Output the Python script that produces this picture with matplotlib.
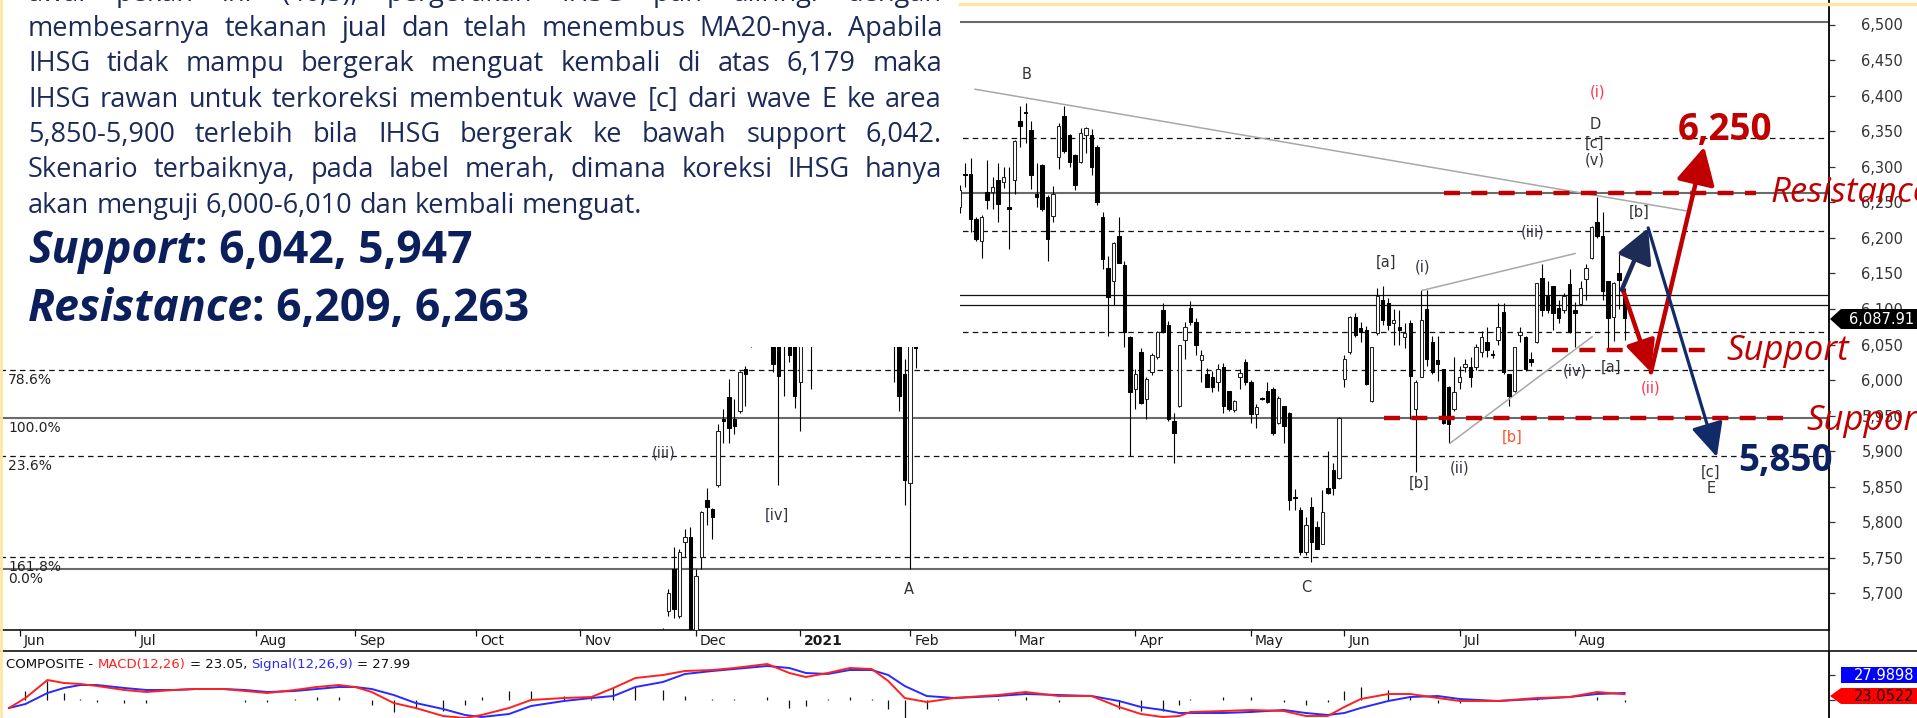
import numpy as np
import matplotlib
matplotlib.use("Agg")
import matplotlib.pyplot as plt
from matplotlib.patches import Rectangle, Polygon
from matplotlib.lines import Line2D
from matplotlib.ticker import FixedLocator, FuncFormatter

plt.rcParams['font.family'] = ['DejaVu Sans']
plt.rcParams['lines.scale_dashes'] = False

# ---------------- data ----------------
first_candle = 117   # trading-day index (0 = first day of Jun 2020)
opens = [5648,5675,5734,5668,5772,5779,5630,5752,5832,5819,5852,5946,5976,5946,5956,6015,6060,6118,6113,6104,
         6165,6080,6050,6080,6060,5997,6104,6137,6065,6153,6257,6382,6395,6435,6429,6373,6389,6429,6413,6414,
         6307,6257,6140,6109,6009,5856,6060,6107,6152,6151,6208,6201,6228,6223,6243,6290,6290,6226,6195,6264,
         6265,6282,6278,6244,6281,6365,6376,6352,6262,6302,6257,6231,6314,6372,6344,6317,6307,6344,6345,6328,
         6230,6158,6139,6203,6162,6061,5987,6039,5973,6011,6033,6099,6078,5942,5963,6056,6101,6082,6028,6009,
         6004,5998,6018,5984,5958,6004,6025,5998,5953,5975,5984,5987,5940,5963,5954,5836,5817,5758,5822,5793,
         5770,5849,5873,5862,6001,6039,6089,6073,6071,5970,6066,6112,6108,6080,6075,6060,6081,5959,6005,6100,
         6053,6028,6015,5990,5959,5998,6018,6018,6019,6040,6053,6037,6057,6096,6008,5984,6064,6061,6030,6054,
         6144,6118,6132,6102,6099,6135,6098,6107,6142,6172,6222,6202,6139,6089,6151,6117]
highs = [5652,5706,5766,5762,5791,5794,5735,5816,5849,5820,5938,5959,6001,5973,6013,6020,6080,6150,6140,6195,
         6170,6090,6110,6100,6070,6112,6150,6150,6160,6262,6400,6420,6460,6504,6450,6400,6440,6450,6440,6420,
         6330,6270,6160,6120,6030,6090,6110,6160,6170,6215,6230,6240,6250,6260,6275,6305,6312,6229,6232,6310,
         6285,6305,6299,6299,6338,6385,6390,6365,6305,6304,6260,6273,6361,6385,6346,6318,6355,6356,6353,6330,
         6236,6174,6194,6229,6167,6062,6015,6045,6004,6038,6069,6109,6083,5954,6050,6082,6111,6087,6043,6017,
         6013,6022,6024,5985,5972,6016,6029,6000,5966,5976,5997,5990,5978,5963,5955,5847,5822,5807,5835,5802,
         5845,5901,5884,5948,6035,6090,6095,6082,6076,6047,6130,6132,6115,6100,6098,6080,6085,6000,6127,6127,
         6062,6062,6016,5992,6033,6020,6029,6032,6051,6069,6074,6043,6109,6109,6009,6047,6075,6062,6040,6137,
         6163,6139,6133,6112,6123,6156,6110,6140,6163,6217,6258,6236,6140,6138,6177,6130]
lows = [5610,5668,5666,5666,5752,5600,5620,5735,5796,5776,5850,5912,5911,5924,5954,5964,6046,6070,6075,6100,
        6011,5852,5977,6026,5961,5928,6080,5987,6060,6150,6250,6330,6380,6400,6350,6300,6370,6390,6380,6290,
        6240,6120,5998,5956,5824,5735,6017,6090,6120,6140,6180,6190,6200,6210,6235,6272,6208,6196,6172,6241,
        6241,6222,6270,6184,6261,6328,6334,6269,6244,6238,6167,6223,6297,6320,6299,6267,6305,6320,6289,6246,
        6156,6062,6105,6164,6047,5893,5959,5966,5945,6007,6030,6066,5943,5884,5962,6029,6078,6036,5998,5990,
        5983,5984,5954,5956,5955,5988,5993,5940,5933,5972,5968,5923,5938,5912,5818,5818,5754,5754,5744,5762,
        5769,5840,5838,5861,5991,6037,6061,6053,5993,5969,6064,6078,6070,6050,6050,6045,5945,5871,6004,6020,
        6008,5999,5938,5912,5956,5988,6011,5990,6014,6032,6032,6031,6050,6008,5963,5983,6053,6013,6020,6052,
        6090,6095,6071,6080,6095,6066,6047,6105,6113,6170,6200,6113,6045,6055,6100,6057]
closes = [5630,5700,5678,5759,5780,5612,5724,5814,5821,5808,5929,5943,5932,5935,6011,6008,6050,6113,6104,6165,
          6022,6006,6093,6036,5977,6104,6137,6065,6153,6257,6382,6395,6435,6429,6373,6389,6429,6413,6414,6307,
          6257,6140,6109,5977,5860,6077,6045,6152,6151,6208,6201,6228,6223,6243,6268,6288,6226,6198,6230,6253,
          6272,6248,6286,6240,6336,6357,6375,6289,6257,6240,6198,6262,6357,6322,6307,6274,6347,6354,6299,6250,
          6170,6117,6193,6165,6068,5983,6009,5968,6001,6035,6068,6068,5945,5926,6049,6075,6082,6050,6036,5991,
          5991,6016,5963,5960,5971,6010,5998,5952,5962,5973,5969,5926,5975,5935,5832,5834,5758,5796,5772,5762,
          5815,5841,5848,5947,6030,6089,6064,6068,5994,6046,6118,6085,6078,6084,6070,6066,6006,5997,6085,6029,
          6011,6022,5940,5938,5983,6005,6022,6004,6046,6060,6043,6035,6075,6012,5977,6046,6068,6015,6025,6136,
          6099,6099,6095,6088,6118,6068,6095,6130,6157,6215,6202,6125,6088,6137,6141,6087.91]

month_labels = ["Jun", "Jul", "Aug", "Sep", "Oct", "Nov", "Dec", "2021",
                "Feb", "Mar", "Apr", "May", "Jun", "Jul", "Aug"]
month_start = [0, 21, 43, 61, 83, 102, 123, 142, 162, 181, 203, 224, 241, 262, 283]
price_ticks = list(range(5700, 6501, 50))

gray_levels = [6504, 6263, 5947, 5734]
thin_levels = [6119, 6105]
dotted_levels = [6340, 6209, 6067, 6014, 5893, 5752]
fib_labels = [("78.6%", 6014), ("100.0%", 5947), ("23.6%", 5893), ("161.8%", 5752), ("0.0%", 5734)]

support_levels = [6042, 5947]
resistance_levels = [6209, 6263]

macd_idx = [-2, 1, 5, 8, 11, 14, 19, 23, 28, 32, 37, 41, 45, 50, 54, 58, 61, 64, 68, 72,
            77, 81, 84, 89, 93, 99, 104, 108, 112, 117, 121, 126, 130, 136, 140, 143, 147, 151, 155, 158,
            161, 165, 170, 178, 183, 189, 195, 200, 204, 208, 211, 213, 219, 224, 230, 234, 238, 241, 244, 249,
            253, 258, 262, 269, 276, 282, 287, 292]
macd_vals = [-32, 8, 80, 68, 64, 56, 40, 32, 40, 44, 44, 36, 28, 40, 52, 60, 52, 32, -12, -32,
             -64, -72, -60, -32, 0, 8, 12, 48, 88, 100, 116, 120, 128, 144, 108, 92, 108, 128, 124, 76,
             8, -8, 8, 20, 32, 16, 16, -28, -56, -68, -64, -48, -44, -40, -44, -64, -64, -28, 4, 24,
             24, 8, -4, -4, 8, 12, 32, 23.05]
signal_vals = [-32, -16, 28, 48, 60, 60, 48, 40, 40, 44, 44, 40, 32, 36, 44, 52, 52, 44, 20, -12,
               -36, -60, -68, -56, -24, -4, 8, 16, 52, 72, 104, 116, 124, 136, 128, 108, 104, 120, 120, 100,
               56, 16, 8, 16, 24, 20, 16, -4, -28, -40, -52, -52, -52, -48, -40, -52, -60, -52, -32, -4,
               12, 16, 4, -4, 4, 12, 24, 27.99]
macd_tag = "23.0522"
signal_tag = "27.9898"

# wave labels: (text, trading-day index, price, colour)
wave_labels = [
    ("B", 183.1, 6430, "#333333"), ("(iii)", 117.2, 5897, "#333344"), ("[iv]", 137.8, 5810, "#333344"),
    ("A", 161.8, 5705, "#333333"), ("C", 234.0, 5708, "#333333"), ("[b]", 254.6, 5855, "#333333"),
    ("(ii)", 261.9, 5876, "#333344"), ("[b]", 271.5, 5920, "#ff5030"), ("(iv)", 283.0, 6013, "#333344"),
    ("[a]", 289.5, 6018, "#333333"), ("(ii)", 296.8, 5989, "#ff3050"), ("[c]", 307.7, 5871, "#333333"),
    ("E", 307.7, 5848, "#333333"), ("(i)", 287.0, 6405, "#ff3050"), ("D", 286.6, 6360, "#333333"),
    ("[c]", 286.6, 6333, "#333333"), ("(v)", 286.6, 6309, "#333344"), ("[b]", 294.6, 6236, "#333333"),
    ("(iii)", 275.2, 6208, "#333344"), ("[a]", 248.6, 6166, "#333333"), ("(i)", 255.3, 6159, "#333344"),
]
trendlines = [((173.8, 6409), (303.2, 6238)), ((260.2, 5911), (286.1, 6061)), ((255.1, 6126), (283.0, 6178))]

red_path_idx = [291.7, 296.8, 306.5]
red_path_price = [6127, 6011, 6328]
blue_path_idx = [291.5, 296.3, 308.8]
blue_path_price = [6127, 6214, 5892]

body_lines = [
    "awal pekan ini (46,3), pergerakan IHSG pun diiringi dengan",
    "membesarnya tekanan jual dan telah menembus MA20-nya. Apabila",
    "IHSG tidak mampu bergerak menguat kembali di atas 6,179 maka",
    "IHSG rawan untuk terkoreksi membentuk wave [c] dari wave E ke area",
    "5,850-5,900 terlebih bila IHSG bergerak ke bawah support 6,042.",
    "Skenario terbaiknya, pada label merah, dimana koreksi IHSG hanya",
    "akan menguji 6,000-6,010 dan kembali menguat.",
]

# ---------------- layout ----------------
W, H = 1917, 718
fig = plt.figure(figsize=(W / 100, H / 100), dpi=100)
fig.patch.set_facecolor("white")

PX_PER_DAY = 5.495
X0_PX = 20.0
P_REF_PX = 24.5       # pixel row of 6,500
PTS_PER_PX = 1.406
AXIS_X = 1829
PRICE_BOTTOM = 629.6
MACD_TOP = 650.5


def px_to_idx(x):
    return (x - X0_PX) / PX_PER_DAY


def py_to_price(y):
    return 6500 - (y - P_REF_PX) * PTS_PER_PX


def fx(x):
    return x / W


def fy(y):
    return 1 - y / H


ax = fig.add_axes([0, fy(PRICE_BOTTOM), fx(AXIS_X), PRICE_BOTTOM / H])
ax.set_xlim(px_to_idx(0), px_to_idx(AXIS_X))
ax.set_ylim(py_to_price(PRICE_BOTTOM), py_to_price(0))
ax.set_facecolor("white")

axm = fig.add_axes([0, 0, fx(AXIS_X), (H - MACD_TOP) / H])
axm.set_xlim(px_to_idx(0), px_to_idx(AXIS_X))
axm.set_ylim((700 - 718) * 4, (700 - MACD_TOP) * 4)

# horizontal reference lines
for lv in gray_levels:
    ax.axhline(lv, color="#6a6a6a", lw=1.5, zorder=1)
for lv in thin_levels:
    ax.axhline(lv, color="#111111", lw=0.9, zorder=1)
for lv in dotted_levels:
    ax.axhline(lv, color="#111111", lw=0.9, ls=(0, (4.0, 3.0)), zorder=1)
for txt, lv in fib_labels:
    ax.annotate(txt, xy=(0, lv), xycoords=("axes fraction", "data"), xytext=(8, -3),
                textcoords="offset pixels", ha="left", va="top", fontsize=10, color="#222222",
                annotation_clip=False)

# candles
idx = np.arange(first_candle, first_candle + len(opens))
o = np.array(opens, float)
h = np.array(highs, float)
l = np.array(lows, float)
c = np.array(closes, float)
up = c >= o
ax.vlines(idx, l, h, color="black", lw=0.8, zorder=2)
bb = np.minimum(o, c)
bh = np.maximum(np.abs(c - o), 1.5)
ax.bar(idx[up], bh[up], bottom=bb[up], width=0.62, facecolor="white", edgecolor="#222222",
       linewidth=0.75, zorder=3)
ax.bar(idx[~up], bh[~up], bottom=bb[~up], width=0.62, facecolor="black", edgecolor="black",
       linewidth=0.75, zorder=3)

# trendlines
for (x0, y0), (x1, y1) in trendlines:
    ax.plot([x0, x1], [y0, y1], color="#a8a8a8", lw=1.1, zorder=2)

# red support / resistance dashes
red = "#c00000"
red_spans = {6263: (259.1, 316.0), 6042: (278.8, 307.2), 5947: (248.2, 322.7)}
for lv in [resistance_levels[1]] + support_levels:
    a0, a1 = red_spans[lv]
    ax.hlines(lv, a0, a1, color=red, lw=3.2, linestyles=[(0, (11.5, 8.2))], zorder=4)

# wave labels
for txt, xi, pr, col in wave_labels:
    ax.text(xi, pr, txt, ha="center", va="center", fontsize=10.5, color=col, zorder=5)

# scenario arrows
def arrow(axh, p0, p1, col, lw, ms, hw=0.45):
    axh.annotate("", xy=p1, xytext=p0,
                 arrowprops=dict(arrowstyle=f"-|>,head_length=0.95,head_width={hw}", color=col, lw=lw,
                                 shrinkA=0, shrinkB=0, mutation_scale=ms), zorder=6)

navy = "#12296a"
arrow(ax, (red_path_idx[0], red_path_price[0]), (red_path_idx[1], red_path_price[1]), red, 3.2, 20)
arrow(ax, (red_path_idx[1], red_path_price[1]), (red_path_idx[2], red_path_price[2]), red, 3.2, 24, 0.5)
arrow(ax, (blue_path_idx[0], blue_path_price[0]), (blue_path_idx[1], blue_path_price[1]), "#1c2c55", 3.2, 22, 0.5)
arrow(ax, (blue_path_idx[1], blue_path_price[1]), (blue_path_idx[2], blue_path_price[2]), navy, 2.3, 22)

# axes styling (price)
for s in ["top", "left"]:
    ax.spines[s].set_visible(False)
ax.spines["bottom"].set_color("#111111")
ax.spines["bottom"].set_linewidth(1.2)
ax.spines["right"].set_color("#111111")
ax.spines["right"].set_linewidth(1.2)
ax.yaxis.tick_right()
ax.yaxis.set_major_locator(FixedLocator(price_ticks))
ax.yaxis.set_major_formatter(FuncFormatter(lambda v, p: f"{int(v):,}"))
ax.tick_params(axis="y", direction="out", length=4.3, width=0.9, color="#333333",
               pad=19, labelsize=10.5, labelcolor="#333333")
ax.xaxis.set_major_locator(FixedLocator(month_start))
ax.tick_params(axis="x", direction="out", length=4.3, width=0.9, color="#111111", labelbottom=False)
for lab, m in zip(month_labels, month_start):
    ax.annotate(lab, xy=(m, 0), xycoords=("data", "axes fraction"), xytext=(4, -4),
                textcoords="offset pixels", ha="left", va="top", fontsize=10, color="#1a1a1a",
                fontweight="bold" if lab == "2021" else "normal", annotation_clip=False)

# MACD panel
mi = np.array(macd_idx, float)
mv = np.array(macd_vals, float)
sv = np.array(signal_vals, float)
axm.vlines(mi, 0, (mv - sv) * 1.5, color="#111111", lw=0.9, zorder=2)
axm.plot(mi, sv, color="#2a2aff", lw=1.4, zorder=3)
axm.plot(mi, mv, color="#ff2020", lw=1.4, zorder=4)
for s in ["top", "left", "bottom"]:
    axm.spines[s].set_visible(False)
axm.spines["right"].set_color("#111111")
axm.spines["right"].set_linewidth(1.2)
axm.yaxis.tick_right()
axm.set_yticks([0, 100])
axm.set_yticklabels([])
axm.set_xticks([])
axm.tick_params(axis="y", direction="out", length=4.3, width=0.9, color="#333333")

# figure-level frame lines
fig.add_artist(Line2D([fx(AXIS_X)] * 2, [0, 1], transform=fig.transFigure, color="#111111", lw=1.2, zorder=3))
fig.add_artist(Line2D([0, 1], [fy(MACD_TOP)] * 2, transform=fig.transFigure, color="#111111", lw=1.2, zorder=3))

# text box (opaque)
fig.add_artist(Rectangle((0, fy(347)), fx(960), 347 / H, transform=fig.transFigure,
                         facecolor="white", edgecolor="none", zorder=5))
fig.add_artist(Line2D([fx(1), fx(1)], [0, 1], transform=fig.transFigure, color="#ffe7a3", lw=2.0, zorder=9))
fig.add_artist(Line2D([fx(960), 1], [fy(3.5)] * 2, transform=fig.transFigure, color="#ffe7a3", lw=2.5, zorder=9))

renderer = fig.canvas.get_renderer()


def measure(s, **kw):
    a = fig.text(0, 0, "x" + s + "x", **kw)
    b = fig.text(0, 0, "xx", **kw)
    w = a.get_window_extent(renderer).width - b.get_window_extent(renderer).width
    a.remove()
    b.remove()
    return w


def line_text(line, y, x0, x1, justify, **kw):
    words = line.split(" ")
    widths = [measure(w, **kw) for w in words]
    if justify and len(words) > 1:
        gap = (x1 - x0 - sum(widths)) / (len(words) - 1)
    else:
        gap = measure(" ", **kw)
    x = x0
    for w, wd in zip(words, widths):
        fig.text(fx(x), fy(y), w, ha="left", va="baseline", zorder=7, **kw)
        x += wd + gap


def seg_text(parts, x, y, zorder=7):
    for s, kw in parts:
        sp = measure(" ", **kw)
        lead = len(s) - len(s.lstrip(" "))
        trail = len(s) - len(s.rstrip(" "))
        core = s.strip(" ")
        x += lead * sp
        fig.text(fx(x), fy(y), core, ha="left", va="baseline", zorder=zorder, **kw)
        x += measure(core, **kw) + trail * sp


body_kw = dict(fontfamily="Open Sans", fontsize=19.5, color="#1c2a5a")
base_y = 0.8
for i, line in enumerate(body_lines):
    line_text(line, base_y + i * 35.3, 28, 942, i < len(body_lines) - 1, **body_kw)

big = dict(fontfamily="Open Sans", fontsize=32, fontweight="bold", color="#0b1f5c")
seg_text([("Support", dict(big, fontstyle="italic")),
          (": " + ", ".join(f"{v:,}" for v in support_levels), big)], 28, 263)
seg_text([("Resistance", dict(big, fontstyle="italic")),
          (": " + ", ".join(f"{v:,}" for v in resistance_levels), big)], 28, 321)

# red / navy callouts
fig.text(fx(1725), fy(140), "6,250", ha="center", va="baseline", fontfamily="Open Sans",
         fontsize=26.5, fontweight="bold", color=red, zorder=8)
fig.text(fx(1785), fy(471), "5,850", ha="center", va="baseline", fontfamily="Open Sans",
         fontsize=26.5, fontweight="bold", color="#0b2162", zorder=8)
it = dict(fontfamily="Open Sans", fontsize=25, fontstyle="italic", color=red, zorder=8)
fig.text(fx(1771), fy(202), "Resistance", ha="left", va="baseline", **it)
fig.text(fx(1726), fy(360), "Support", ha="left", va="baseline", **it)
fig.text(fx(1806), fy(430), "Support", ha="left", va="baseline", **it)

# last price / MACD value tags
def tag(y0, y1, col, txt, tcol, pointer):
    pts = [(1917, y0), (1917, y1), (1841, y1), (1841, y0)]
    if pointer:
        pts = [(1830, (y0 + y1) / 2), (1841, y0), (1917, y0), (1917, y1), (1841, y1)]
    fig.add_artist(Polygon([(fx(a), fy(b)) for a, b in pts], closed=True, transform=fig.transFigure,
                           facecolor=col, edgecolor="none", zorder=9))
    fig.text(fx(1914), fy((y0 + y1) / 2 + 0.5), txt, ha="right", va="center", fontsize=10.5,
             color=tcol, zorder=10)

tag(309, 329, "black", f"{closes[-1]:,.2f}", "white", True)
tag(667, 683, "#0000ff", signal_tag, "white", False)
tag(688, 704, "#ff0000", macd_tag, "#1a0000", True)

# MACD legend
seg_text([("COMPOSITE - ", dict(fontsize=9.5, color="#111111")),
          ("MACD(12,26)", dict(fontsize=9.5, color="#ff2020")),
          (f" = {macd_vals[-1]:.2f}, ", dict(fontsize=9.5, color="#111111")),
          ("Signal(12,26,9)", dict(fontsize=9.5, color="#2a2aff")),
          (f" = {signal_vals[-1]:.2f}", dict(fontsize=9.5, color="#111111"))], 6, 668, zorder=8)

fig.savefig("out.png", dpi=100, facecolor="white")
